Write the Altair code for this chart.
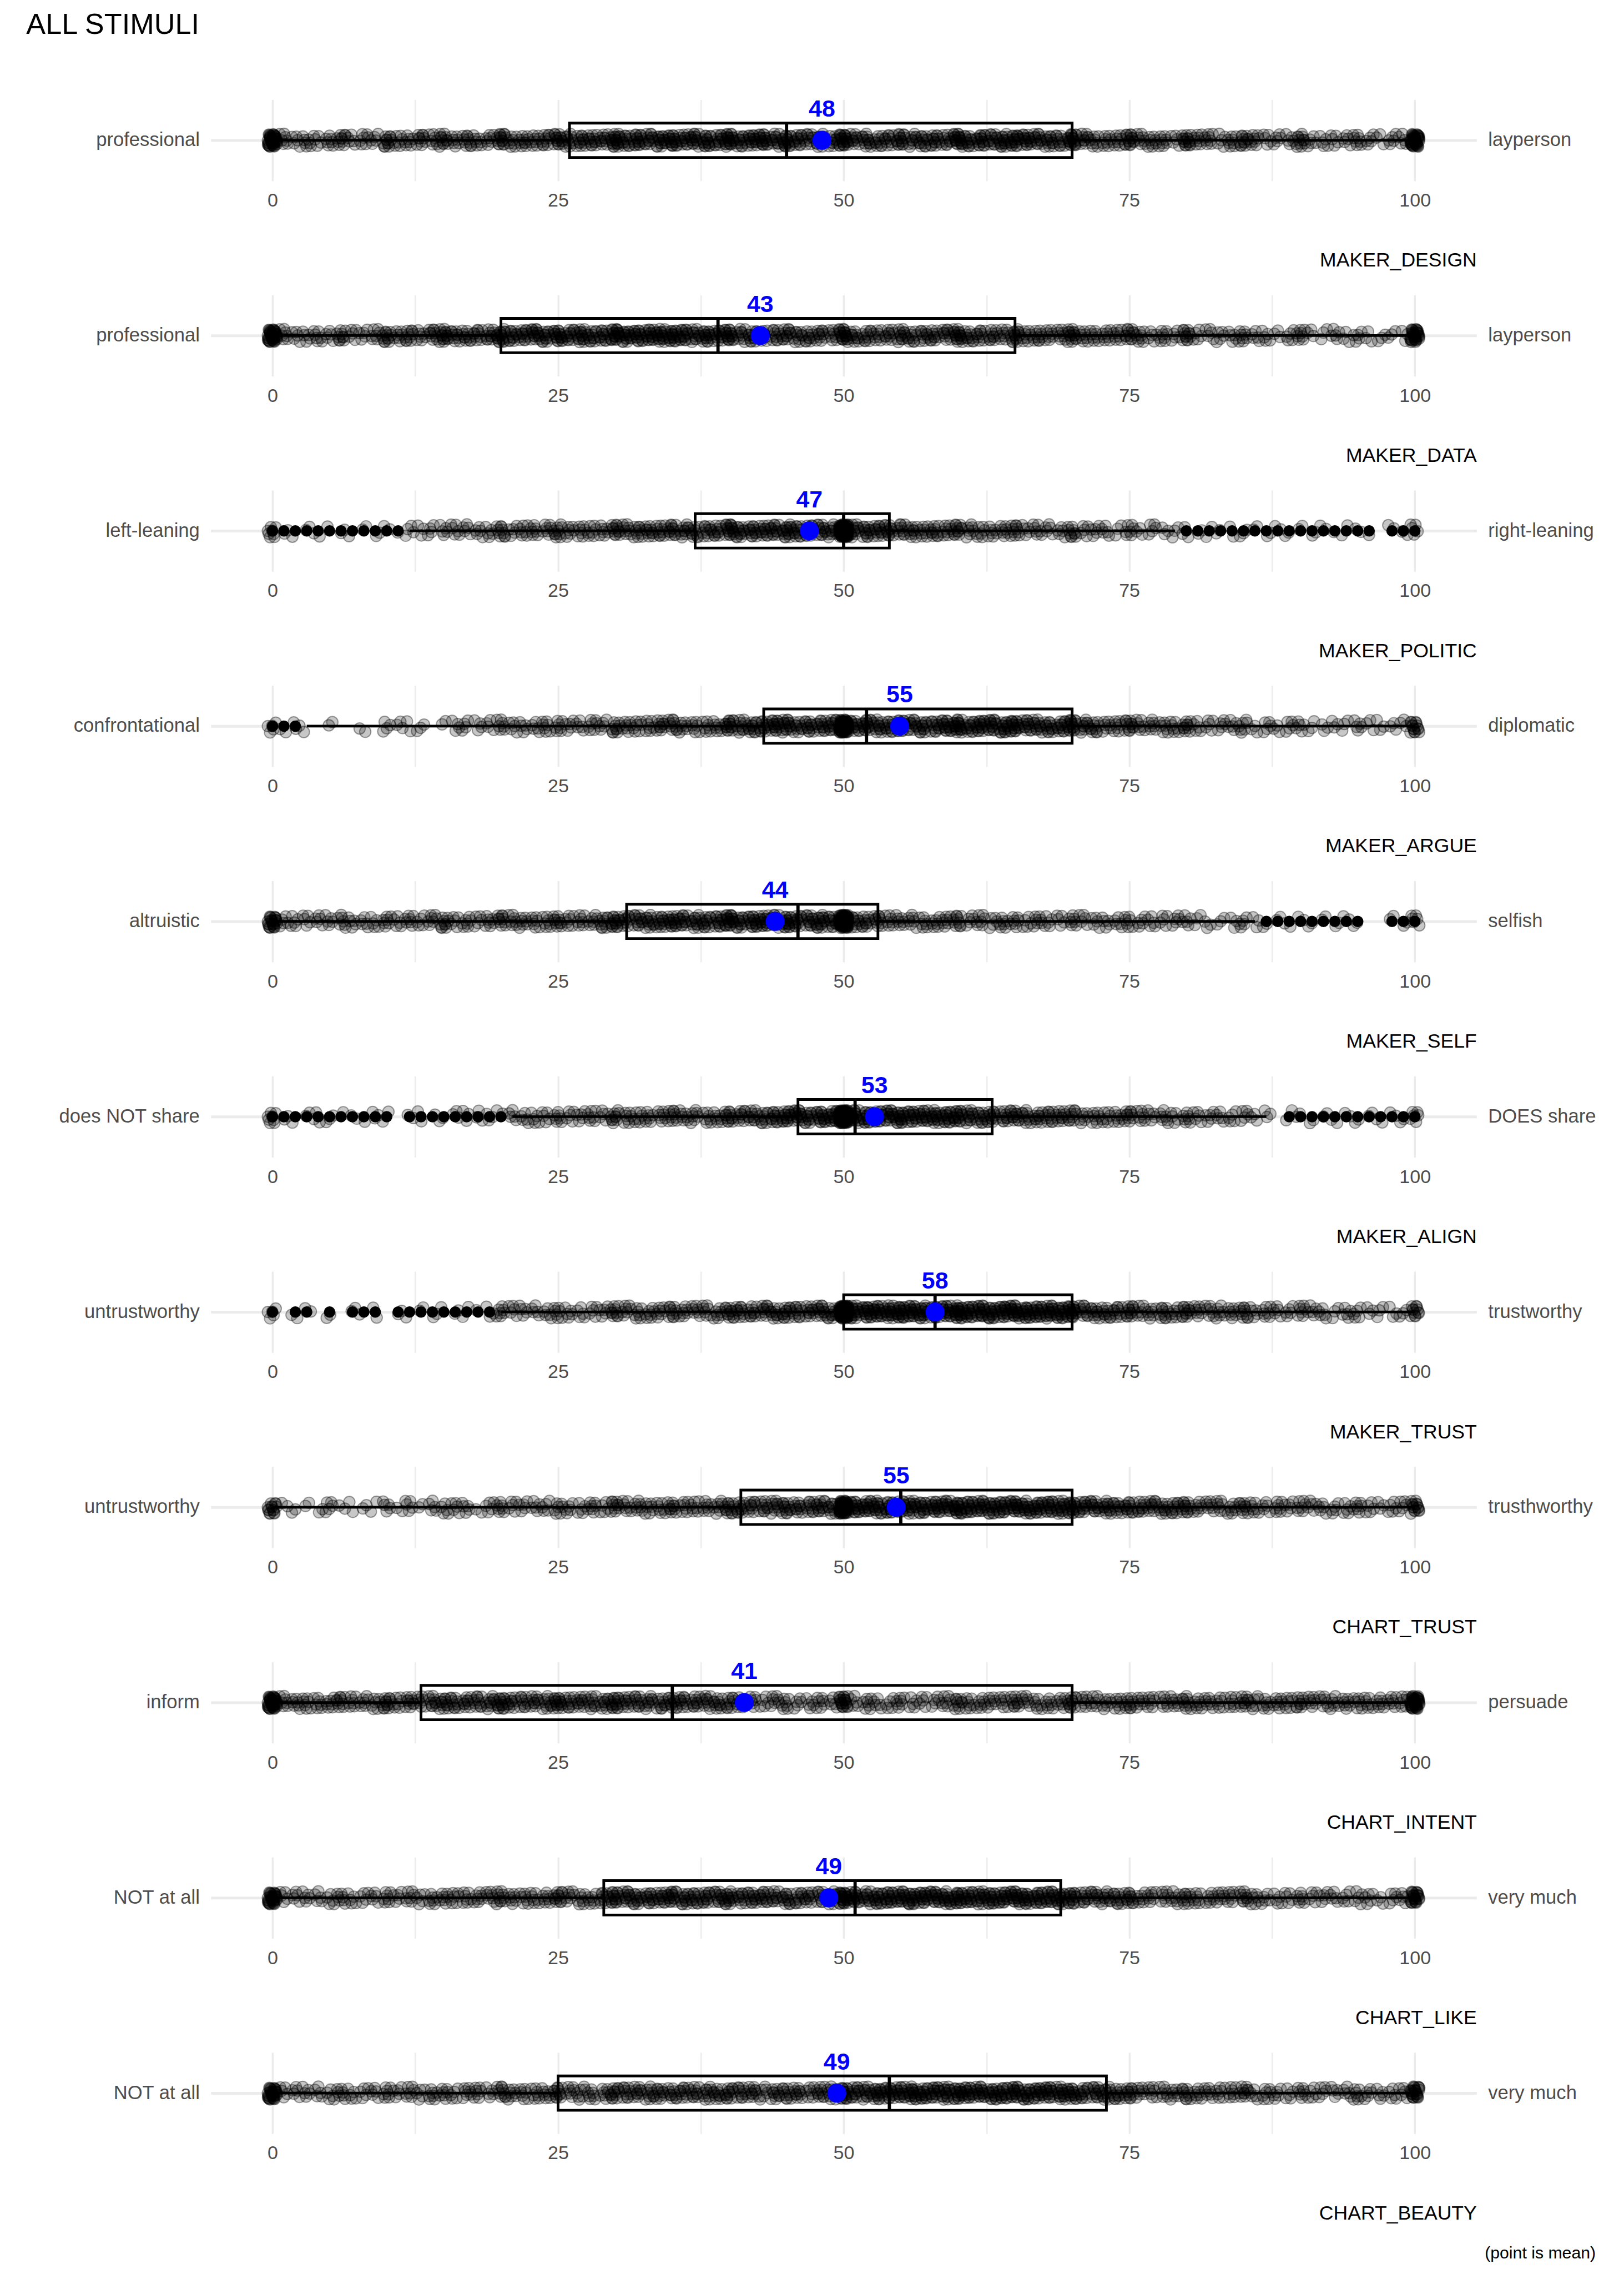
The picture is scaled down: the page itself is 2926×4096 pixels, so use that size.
import altair as alt
import pandas as pd

S = 0.975
FONT = "Liberation Sans"

# ---------------- data ----------------
panel_names = ["MAKER_DESIGN", "MAKER_DATA", "MAKER_POLITIC", "MAKER_ARGUE", "MAKER_SELF",
               "MAKER_ALIGN", "MAKER_TRUST", "CHART_TRUST", "CHART_INTENT", "CHART_LIKE",
               "CHART_BEAUTY"]
left_labels = ["professional", "professional", "left-leaning", "confrontational", "altruistic",
               "does NOT share", "untrustworthy", "untrustworthy", "inform", "NOT at all",
               "NOT at all"]
right_labels = ["layperson", "layperson", "right-leaning", "diplomatic", "selfish",
                "DOES share", "trustworthy", "trusthworthy", "persuade", "very much",
                "very much"]
q1 = [26, 20, 37, 43, 31, 46, 50, 41, 13, 29, 25]
median = [45, 39, 50, 52, 46, 51, 58, 55, 35, 51, 54]
q3 = [70, 65, 54, 70, 53, 63, 70, 70, 70, 69, 73]
whisker_lo = [0, 0, 12, 3, 0, 21, 20, 0, 0, 0, 0]
whisker_hi = [100, 100, 79, 100, 86, 87, 100, 100, 100, 100, 100]
means = [48.1, 42.7, 47.0, 54.9, 44.0, 52.7, 58.0, 54.6, 41.3, 48.7, 49.4]

outliers_design = []
outliers_data = []
outliers_politic = [0, 1, 2, 3, 4, 5, 6, 7, 8, 9, 10, 11,
                    80, 81, 82, 83, 84, 85, 86, 87, 88, 89, 90, 91, 92, 93, 94, 95, 96,
                    98, 99, 100]
outliers_argue = [0, 1, 2]
outliers_self = [87, 88, 89, 90, 91, 92, 93, 94, 95, 98, 99, 100]
outliers_align = [0, 1, 2, 3, 4, 5, 6, 7, 8, 9, 10, 12, 13, 14, 15, 16, 17, 18, 19, 20,
                  89, 90, 91, 92, 93, 94, 95, 96, 97, 98, 99, 100]
outliers_mtrust = [0, 2, 3, 5, 7, 8, 9, 11, 12, 13, 14, 15, 16, 17, 18, 19]
outliers_ctrust = []
outliers_intent = []
outliers_like = []
outliers_beauty = []

# responses counted at each integer 0..100 (estimated from the jitter cloud)
counts_design = [45, 7, 5, 7, 5, 7, 10, 5, 7, 5,
                 12, 7, 7, 10, 7, 12, 7, 10, 7, 7,
                 15, 8, 10, 8, 10, 15, 10, 12, 12, 10,
                 20, 12, 15, 12, 15, 17, 12, 15, 15, 12,
                 20, 12, 15, 17, 12, 17, 12, 10, 12, 10,
                 22, 10, 12, 10, 10, 15, 10, 12, 12, 10,
                 20, 12, 15, 12, 15, 17, 15, 12, 12, 10,
                 20, 10, 8, 8, 8, 15, 8, 8, 8, 5,
                 15, 8, 8, 5, 8, 12, 8, 5, 5, 5,
                 12, 5, 5, 5, 5, 8, 5, 3, 5, 5,
                 45]
counts_data = [45, 7, 5, 5, 7, 5, 10, 5, 5, 7,
               12, 7, 10, 7, 10, 15, 10, 10, 10, 10,
               17, 12, 12, 15, 12, 17, 12, 15, 12, 12,
               20, 15, 15, 15, 17, 17, 15, 12, 15, 12,
               17, 10, 12, 10, 10, 12, 10, 10, 10, 8,
               20, 10, 10, 8, 10, 12, 10, 10, 10, 10,
               17, 10, 10, 10, 8, 15, 8, 10, 8, 8,
               15, 8, 8, 8, 8, 12, 8, 5, 8, 5,
               12, 5, 5, 5, 5, 8, 5, 5, 3, 5,
               8, 3, 3, 5, 3, 5, 3, 3, 3, 3,
               35]
counts_politic = [8, 2, 1, 2, 2, 1, 2, 1, 2, 2,
                  2, 1, 4, 3, 4, 5, 6, 5, 5, 5,
                  10, 5, 7, 7, 7, 10, 7, 7, 7, 7,
                  12, 8, 10, 10, 10, 12, 10, 10, 10, 10,
                  17, 12, 12, 12, 12, 15, 12, 12, 12, 10,
                  90, 12, 12, 12, 12, 10, 10, 8, 10, 8,
                  12, 7, 7, 7, 7, 10, 5, 7, 5, 5,
                  10, 5, 5, 5, 3, 7, 3, 5, 3, 3,
                  3, 2, 2, 2, 2, 3, 2, 2, 2, 2,
                  2, 2, 2, 1, 2, 2, 1, 0, 2, 2,
                  5]
counts_argue = [5, 2, 3, 1, 0, 2, 0, 0, 2, 0,
                4, 3, 2, 3, 0, 2, 4, 4, 4, 4,
                7, 5, 5, 5, 7, 7, 5, 5, 7, 5,
                10, 7, 7, 7, 10, 10, 7, 7, 7, 7,
                15, 10, 12, 12, 15, 15, 10, 12, 12, 12,
                75, 12, 15, 12, 12, 17, 12, 12, 12, 15,
                20, 12, 15, 15, 15, 17, 12, 12, 12, 12,
                17, 10, 10, 7, 7, 12, 7, 7, 7, 7,
                10, 5, 5, 5, 5, 7, 3, 5, 3, 5,
                5, 3, 3, 3, 3, 5, 3, 3, 3, 3,
                15]
counts_self = [25, 5, 5, 5, 5, 5, 7, 5, 5, 5,
               7, 5, 7, 5, 7, 10, 5, 7, 5, 7,
               10, 7, 7, 7, 7, 10, 7, 7, 7, 10,
               15, 10, 12, 12, 12, 15, 12, 12, 12, 12,
               20, 12, 15, 15, 15, 17, 12, 12, 15, 12,
               85, 10, 10, 10, 7, 7, 7, 7, 7, 7,
               10, 5, 7, 5, 7, 7, 5, 7, 5, 5,
               7, 5, 5, 5, 5, 7, 5, 5, 5, 5,
               5, 3, 3, 3, 3, 5, 3, 2, 2, 2,
               2, 2, 2, 2, 2, 2, 0, 0, 2, 2,
               6]
counts_align = [8, 2, 1, 2, 3, 3, 1, 2, 1, 3,
                2, 0, 2, 2, 1, 2, 3, 3, 3, 3,
                2, 5, 5, 5, 5, 7, 5, 5, 7, 5,
                10, 7, 7, 7, 7, 10, 7, 7, 7, 7,
                12, 10, 10, 10, 12, 15, 15, 12, 15, 15,
                100, 17, 15, 15, 15, 17, 15, 15, 15, 15,
                17, 12, 12, 12, 10, 12, 10, 10, 10, 10,
                10, 7, 7, 7, 7, 10, 7, 5, 7, 5,
                7, 5, 5, 5, 5, 5, 3, 3, 0, 2,
                2, 2, 2, 2, 2, 2, 2, 2, 2, 2,
                6]
counts_mtrust = [5, 0, 2, 2, 0, 2, 0, 2, 1, 2,
                 0, 2, 1, 2, 2, 1, 2, 2, 1, 3,
                 7, 5, 5, 5, 5, 7, 5, 5, 5, 5,
                 10, 7, 7, 7, 7, 10, 7, 7, 7, 7,
                 12, 10, 10, 10, 10, 12, 10, 10, 12, 10,
                 85, 17, 17, 17, 17, 20, 17, 17, 17, 17,
                 22, 17, 17, 17, 17, 20, 17, 17, 17, 17,
                 20, 10, 10, 10, 10, 12, 7, 7, 10, 7,
                 12, 7, 7, 7, 7, 10, 5, 7, 5, 5,
                 7, 5, 5, 3, 5, 5, 3, 3, 3, 3,
                 12]
counts_ctrust = [15, 2, 2, 2, 2, 5, 2, 2, 2, 2,
                 5, 2, 5, 2, 5, 5, 5, 5, 2, 5,
                 7, 5, 5, 5, 5, 7, 5, 5, 7, 5,
                 10, 7, 7, 7, 7, 10, 7, 7, 7, 7,
                 12, 10, 10, 10, 10, 12, 10, 10, 12, 10,
                 65, 15, 15, 15, 15, 15, 15, 15, 15, 15,
                 20, 15, 15, 15, 15, 17, 15, 15, 15, 15,
                 17, 12, 12, 12, 10, 12, 10, 10, 10, 10,
                 12, 7, 7, 7, 7, 10, 7, 5, 7, 5,
                 7, 5, 5, 5, 5, 7, 5, 3, 5, 5,
                 15]
counts_intent = [45, 7, 7, 7, 7, 7, 10, 7, 7, 7,
                 12, 7, 10, 7, 10, 12, 10, 10, 10, 10,
                 15, 10, 10, 10, 10, 15, 10, 10, 10, 10,
                 15, 10, 10, 10, 10, 12, 10, 10, 10, 10,
                 10, 7, 7, 5, 7, 7, 5, 5, 7, 5,
                 20, 5, 7, 5, 5, 7, 5, 5, 5, 7,
                 10, 7, 7, 7, 7, 10, 7, 7, 7, 7,
                 12, 7, 7, 7, 7, 10, 7, 7, 7, 7,
                 10, 7, 7, 7, 7, 10, 7, 7, 7, 7,
                 10, 7, 7, 7, 7, 7, 7, 7, 7, 7,
                 45]
counts_like = [35, 5, 5, 5, 5, 5, 7, 5, 5, 5,
               7, 5, 7, 5, 7, 7, 7, 7, 7, 7,
               10, 7, 7, 7, 7, 12, 7, 7, 7, 10,
               15, 12, 12, 12, 12, 15, 12, 12, 12, 12,
               15, 10, 12, 12, 10, 12, 10, 10, 10, 12,
               25, 15, 12, 15, 15, 15, 17, 15, 15, 15,
               17, 15, 15, 15, 15, 17, 15, 15, 15, 15,
               15, 10, 10, 10, 10, 12, 7, 7, 7, 7,
               10, 7, 7, 7, 7, 10, 7, 5, 5, 5,
               7, 5, 5, 5, 5, 5, 5, 3, 5, 5,
               25]
counts_beauty = [35, 5, 5, 5, 5, 5, 7, 5, 5, 5,
                 7, 5, 7, 5, 7, 7, 5, 7, 7, 5,
                 10, 7, 7, 7, 7, 12, 7, 7, 7, 7,
                 12, 10, 10, 10, 10, 10, 10, 10, 10, 10,
                 12, 10, 10, 7, 10, 10, 10, 7, 10, 10,
                 20, 12, 12, 15, 15, 15, 17, 15, 15, 15,
                 17, 15, 15, 15, 15, 17, 15, 15, 15, 15,
                 15, 12, 12, 12, 10, 12, 7, 7, 7, 7,
                 10, 7, 7, 7, 7, 10, 5, 7, 5, 5,
                 7, 5, 5, 5, 5, 7, 5, 5, 5, 5,
                 25]

counts_all = [counts_design, counts_data, counts_politic, counts_argue, counts_self,
              counts_align, counts_mtrust, counts_ctrust, counts_intent, counts_like,
              counts_beauty]
outliers_all = [outliers_design, outliers_data, outliers_politic, outliers_argue, outliers_self,
                outliers_align, outliers_mtrust, outliers_ctrust, outliers_intent, outliers_like,
                outliers_beauty]

# ---------------- chart ----------------
W = 2339 * S
H = 150 * S
x_scale = alt.Scale(domain=[-5.4, 105.4], nice=False, zero=False)
y_scale = alt.Scale(domain=[-1, 1], nice=False, zero=False)
BOX_HALF = 0.423
JIT_X = 0.8
JIT_Y = 12 / 75
G1 = 0.6180339887
G2 = 0.7548776662


def make_panel(i):
    name = panel_names[i]
    rows = []
    k = 0
    for v, c in enumerate(counts_all[i]):
        for _ in range(c):
            fx = (k * G1) % 1.0 - 0.5
            fy = (k * G2 + 0.5) % 1.0 - 0.5
            rows.append({"value": v, "xj": v + fx * JIT_X, "yj": fy * 2 * JIT_Y})
            k += 1
    pts = pd.DataFrame(rows)

    x_axis = alt.Axis(
        values=[0, 12.5, 25, 37.5, 50, 62.5, 75, 87.5, 100],
        labelExpr="datum.value % 25 === 0 ? datum.label : ''",
        grid=True, gridColor="#ebebeb",
        gridWidth={"condition": {"test": "datum.value % 25 === 0", "value": 3.5 * S},
                   "value": 2.5 * S},
        domain=False, ticks=False, tickSize=0,
        labelPadding=19 * S, labelFontSize=35 * S, labelColor="#4d4d4d", labelFont=FONT,
        labelFlush=False, labelOverlap=False,
        title=name, titleFont=FONT, titleFontSize=36.5 * S, titleFontWeight="normal",
        titleColor="black", titleAnchor="end", titlePadding=75 * S,
    )
    y_left = alt.Axis(
        orient="left", values=[0], labelExpr="'" + left_labels[i] + "'",
        grid=True, gridColor="#ebebeb", gridWidth=5 * S,
        domain=False, ticks=False, tickSize=0, labelLimit=0,
        labelPadding=21 * S, labelFontSize=35.5 * S, labelColor="#4d4d4d", labelFont=FONT,
    )
    y_right = alt.Axis(
        orient="right", values=[0], labelExpr="'" + right_labels[i] + "'",
        grid=False, domain=False, ticks=False, tickSize=0, labelLimit=0,
        labelPadding=21 * S, labelFontSize=35.5 * S, labelColor="#4d4d4d", labelFont=FONT,
    )

    summ = pd.DataFrame({"q1": [q1[i]], "med": [median[i]], "q3": [q3[i]],
                         "lo": [whisker_lo[i]], "hi": [whisker_hi[i]], "mean": [means[i]]})
    segs = pd.DataFrame({"a": [whisker_lo[i], q3[i]], "b": [q1[i], whisker_hi[i]]})

    def X(f):
        return alt.X(f, type="quantitative", scale=x_scale, axis=x_axis)

    jitter = alt.Chart(pts).mark_circle(
        size=(21 * S) ** 2, color="black", opacity=1, fillOpacity=0.22,
        stroke="black", strokeOpacity=0.38, strokeWidth=2 * S,
    ).encode(x=X("xj"), y=alt.Y("yj:Q", scale=y_scale, axis=y_left, title=None))

    whisk = alt.Chart(segs).mark_rule(color="black", strokeWidth=5 * S).encode(
        x=X("a"), x2="b:Q", y=alt.Y(datum=0, scale=y_scale, axis=None))

    box = alt.Chart(summ).mark_rect(
        fillOpacity=0, stroke="black", strokeWidth=5 * S).encode(
        x=X("q1"), x2="q3:Q",
        y=alt.Y(datum=-BOX_HALF, scale=y_scale, axis=None), y2=alt.Y2(datum=BOX_HALF))

    med = alt.Chart(summ).mark_rule(color="black", strokeWidth=6 * S).encode(
        x=X("med"),
        y=alt.Y(datum=-BOX_HALF, scale=y_scale, axis=None), y2=alt.Y2(datum=BOX_HALF))

    layers = [jitter, whisk, box, med]

    if outliers_all[i]:
        od = pd.DataFrame({"v": outliers_all[i]})
        outl = alt.Chart(od).mark_circle(size=(21 * S) ** 2, color="black", opacity=1).encode(
            x=X("v"), y=alt.Y(datum=0, scale=y_scale, axis=None))
        layers.append(outl)

    mean_pt = alt.Chart(summ).mark_circle(size=(35 * S) ** 2, color="#0000ff", opacity=1).encode(
        x=X("mean"), y=alt.Y(datum=0, scale=y_scale, axis=y_right, title=None))
    mean_lbl = alt.Chart(summ).mark_text(
        font=FONT, fontWeight="bold", fontSize=44 * S, color="#0000ff",
        baseline="middle", align="center").encode(
        x=X("mean"), y=alt.Y(datum=0.76, scale=y_scale, axis=None),
        text=alt.Text("mean:Q", format=".0f"))
    layers += [mean_pt, mean_lbl]

    return alt.layer(*layers).resolve_axis(y="independent").properties(width=W, height=H)


panels = [make_panel(i) for i in range(len(panel_names))]

inner = alt.vconcat(*panels, spacing=210 * S, bounds="flush").properties(
    title=alt.TitleParams("(point is mean)", orient="bottom", anchor="end",
                          fontSize=31 * S, font=FONT, fontWeight="normal",
                          color="black", offset=40 * S))

chart = alt.vconcat(inner).properties(
    title=alt.TitleParams("ALL STIMULI", anchor="start", frame="group", dx=-341 * S,
                          fontSize=53.6 * S, font=FONT, fontWeight="normal",
                          color="black", offset=106 * S),
    padding={"left": 48 * S, "top": 19 * S, "right": 44 * S, "bottom": 30 * S},
    background="white",
).configure_view(stroke=None)

chart.save("out.html", embed_options={"renderer": "svg", "actions": False})
